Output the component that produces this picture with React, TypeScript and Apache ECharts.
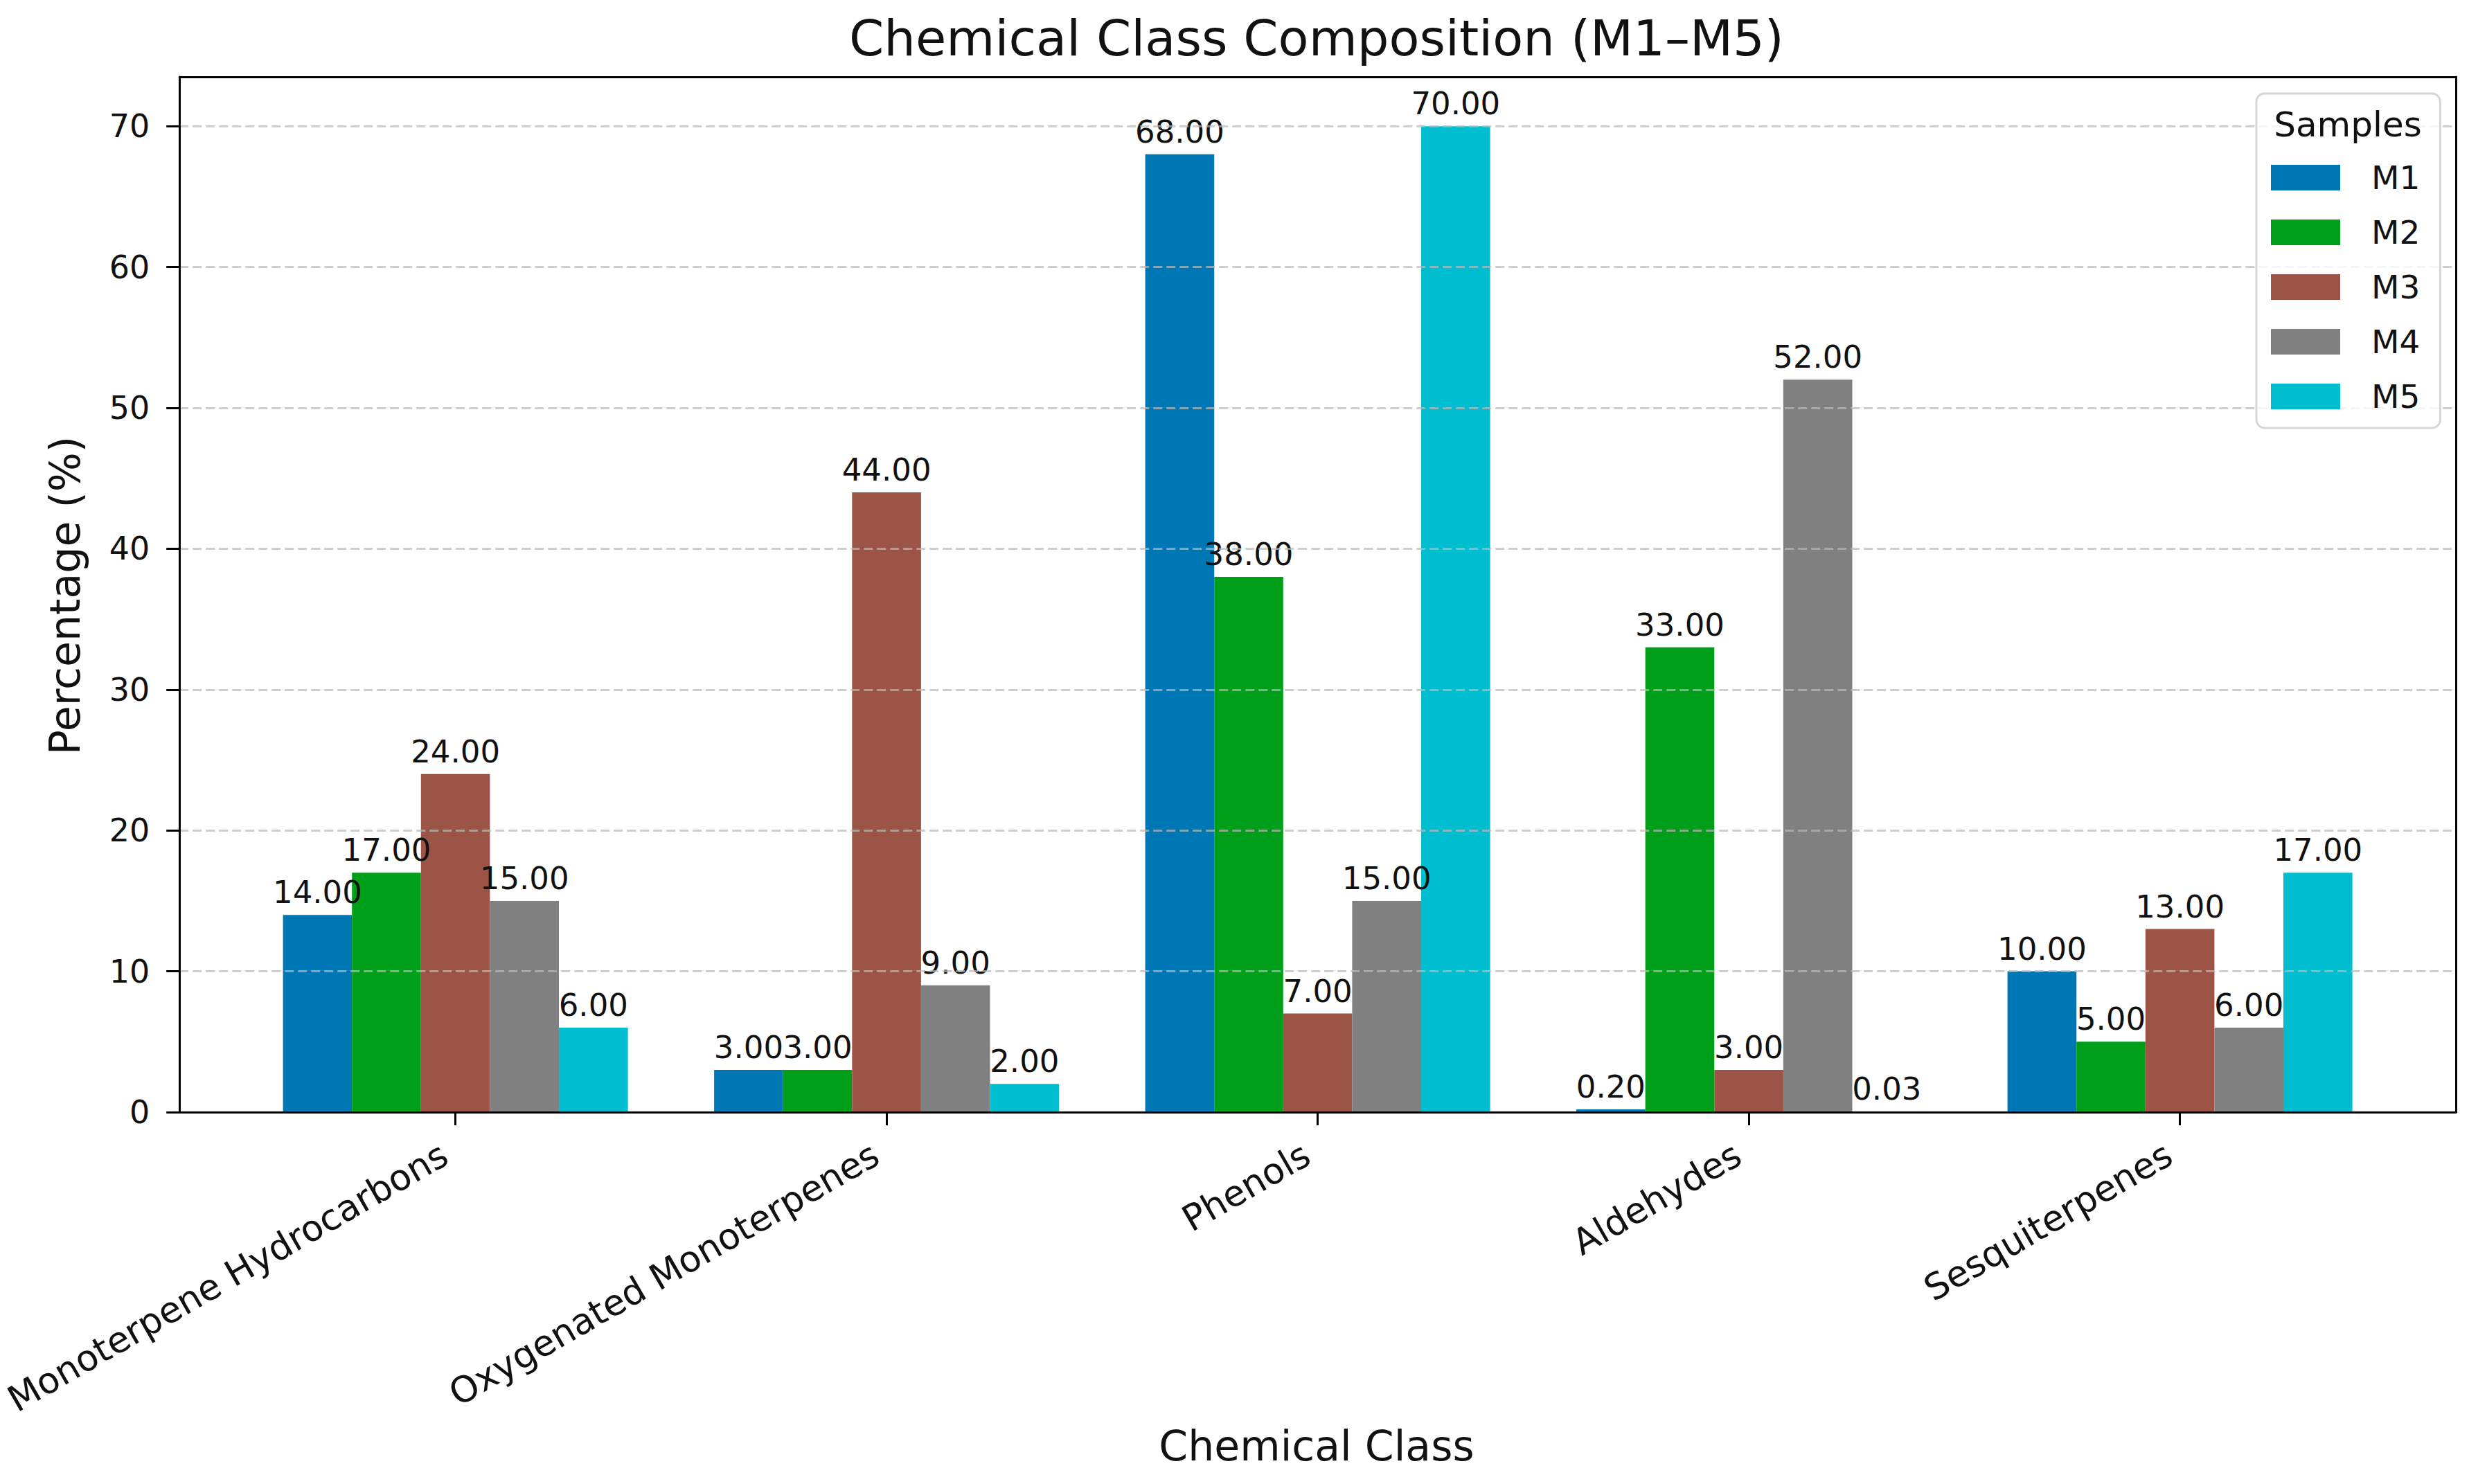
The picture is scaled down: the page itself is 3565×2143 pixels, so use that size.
import React, { useEffect, useRef } from 'react';
import * as echarts from 'echarts';

// chemical classes on the x axis
const categories = [
  'Monoterpene Hydrocarbons',
  'Oxygenated Monoterpenes',
  'Phenols',
  'Aldehydes',
  'Sesquiterpenes',
];

const sampleNames = ['M1', 'M2', 'M3', 'M4', 'M5'];

// percentage per class, one array per sample
const m1Values = [14, 3, 68, 0.2, 10];
const m2Values = [17, 3, 38, 33, 5];
const m3Values = [24, 44, 7, 3, 13];
const m4Values = [15, 9, 15, 52, 6];
const m5Values = [6, 2, 70, 0.03, 17];

const yTicks = [0, 10, 20, 30, 40, 50, 60, 70];
const xTicks = [0, 1, 2, 3, 4];

const colors = ['#0077b5', '#009f19', '#9b5446', '#808080', '#00bed0'];
const FONT = '"DejaVu Sans", "Liberation Sans", sans-serif';

const App: React.FC = () => {
  const chartRef = useRef<HTMLDivElement>(null);

  useEffect(() => {
    if (!chartRef.current) return;
    const chart = echarts.init(chartRef.current, undefined, { renderer: 'svg' });

    const allValues = [m1Values, m2Values, m3Values, m4Values, m5Values];
    const axisLine = { show: true, onZero: false, lineStyle: { color: '#000', width: 3 } };

    const option: echarts.EChartsOption = {
      animation: false,
      backgroundColor: '#fff',
      color: colors,
      textStyle: { fontFamily: FONT },
      grid: { left: 257, top: 111, width: 3289, height: 1495, containLabel: false },
      legend: {
        data: sampleNames,
        orient: 'vertical',
        left: 3258,
        top: 135,
        selectedMode: false,
        icon: 'rect',
        itemWidth: 100,
        itemHeight: 37,
        itemGap: 32,
        padding: [98, 29, 22, 21],
        borderColor: '#d6d6d6',
        borderWidth: 3,
        borderRadius: 12,
        backgroundColor: 'rgba(255,255,255,0.8)',
        textStyle: {
          fontSize: 47,
          fontFamily: FONT,
          color: '#111',
          padding: [0, 0, 0, 40],
        },
      },
      xAxis: [
        {
          type: 'value',
          min: -0.64,
          max: 4.64,
          z: 4,
          axisLine,
          axisTick: { show: true, length: 19, lineStyle: { color: '#000', width: 3 }, customValues: xTicks },
          axisLabel: {
            rotate: 30,
            margin: 48,
            padding: [0, 18, 0, 0],
            fontSize: 52,
            fontFamily: FONT,
            color: '#111',
            customValues: xTicks,
            formatter: (v: number) => categories[Math.round(v)] ?? '',
          },
          splitLine: { show: false },
        },
        {
          type: 'value',
          position: 'top',
          min: -0.64,
          max: 4.64,
          z: 4,
          axisLine,
          axisTick: { show: false },
          axisLabel: { show: false },
          splitLine: { show: false },
        },
      ],
      yAxis: [
        {
          type: 'value',
          min: 0,
          max: 73.5,
          interval: 10,
          z: 3,
          axisLine,
          axisTick: { show: true, length: 19, lineStyle: { color: '#000', width: 3 }, customValues: yTicks },
          axisLabel: { fontSize: 46, fontFamily: FONT, color: '#111', margin: 43, customValues: yTicks },
          splitLine: {
            show: true,
            lineStyle: { color: 'rgba(185,185,185,0.7)', width: 3, type: [13, 6] },
          },
        },
        {
          type: 'value',
          position: 'right',
          min: 0,
          max: 73.5,
          z: 4,
          axisLine,
          axisTick: { show: false },
          axisLabel: { show: false },
          splitLine: { show: false },
        },
      ],
      series: sampleNames.map((name, s) => ({
        name,
        type: 'bar' as const,
        xAxisIndex: 0,
        yAxisIndex: 0,
        barGap: '0%',
        barCategoryGap: '20%',
        data: categories.map((_, i) => [i, allValues[s][i]]),
        label: {
          show: true,
          position: 'top' as const,
          distance: 10,
          fontSize: 45,
          fontFamily: FONT,
          color: '#111',
          formatter: (p: any) => Number(p.value[1]).toFixed(2),
        },
      })),
      graphic: [
        {
          type: 'text',
          x: 1901,
          y: 55,
          z: 100,
          style: {
            text: 'Chemical Class Composition (M1–M5)',
            fontSize: 72,
            fontFamily: FONT,
            fill: '#111',
            align: 'center',
            verticalAlign: 'middle',
            textAlign: 'center',
            textVerticalAlign: 'middle',
          } as any,
        },
        {
          type: 'text',
          x: 1901,
          y: 2088,
          z: 100,
          style: {
            text: 'Chemical Class',
            fontSize: 60,
            fontFamily: FONT,
            fill: '#111',
            align: 'center',
            verticalAlign: 'middle',
            textAlign: 'center',
            textVerticalAlign: 'middle',
          } as any,
        },
        {
          type: 'text',
          x: 94,
          y: 860,
          rotation: Math.PI / 2,
          z: 100,
          style: {
            text: 'Percentage (%)',
            fontSize: 60,
            fontFamily: FONT,
            fill: '#111',
            align: 'center',
            verticalAlign: 'middle',
            textAlign: 'center',
            textVerticalAlign: 'middle',
          } as any,
        },
        {
          type: 'text',
          x: 3390,
          y: 180,
          z: 100,
          style: {
            text: 'Samples',
            fontSize: 50,
            fontFamily: FONT,
            fill: '#111',
            align: 'center',
            verticalAlign: 'middle',
            textAlign: 'center',
            textVerticalAlign: 'middle',
          } as any,
        },
      ],
    };

    chart.setOption(option);

    return () => {
      chart.dispose();
    };
  }, []);

  return (
    <div
      ref={chartRef}
      style={{ position: 'absolute', left: 0, top: 0, width: '3565px', height: '2143px' }}
      aria-label="Chemical class composition bar chart"
      role="img"
    />
  );
};

export default App;
